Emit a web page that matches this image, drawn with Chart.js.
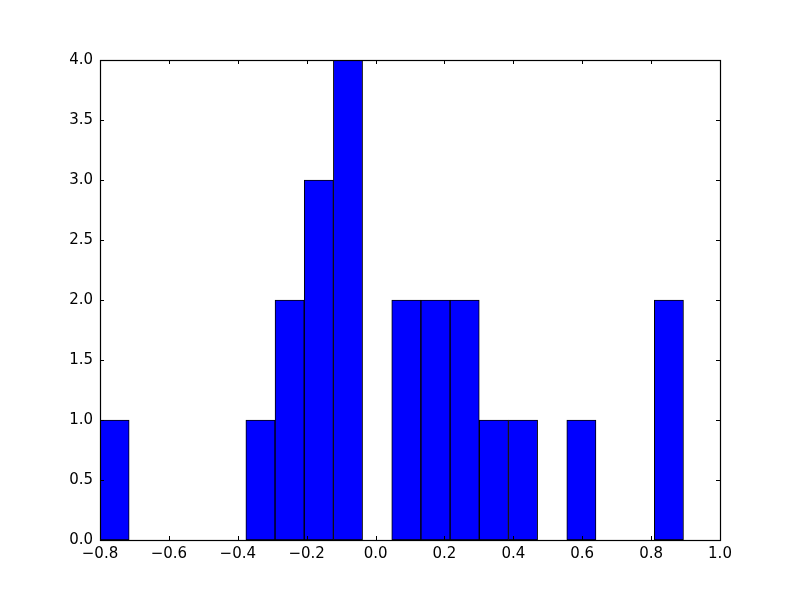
<!DOCTYPE html>
<html>
<head>
<meta charset="utf-8">
<script src="https://cdn.jsdelivr.net/npm/chart.js@4"></script>
<style>
html,body{margin:0;padding:0;background:#fff;}
#wrap{width:800px;height:600px;}
</style>
</head>
<body>
<div id="wrap"><canvas id="c" width="800" height="600"></canvas></div>
<script>
// Histogram bin edges
const binEdges = [-0.8000, -0.7153, -0.6306, -0.5459, -0.4612, -0.3765, -0.2918, -0.2071, -0.1224, -0.0377,
                  0.0470, 0.1317, 0.2164, 0.3011, 0.3858, 0.4705, 0.5552, 0.6399, 0.7246, 0.8093, 0.8940];
// Counts per bin
const binCounts = [1, 0, 0, 0, 0, 1, 2, 3, 4, 0,
                   2, 2, 2, 1, 1, 0, 1, 0, 0, 2];
const xTicks = [-0.8, -0.6, -0.4, -0.2, 0.0, 0.2, 0.4, 0.6, 0.8, 1.0];
const yTicks = [0.0, 0.5, 1.0, 1.5, 2.0, 2.5, 3.0, 3.5, 4.0];

const barData = [];
for (let i = 0; i < binCounts.length; i++) {
  if (binCounts[i] > 0) {
    barData.push({x: (binEdges[i] + binEdges[i + 1]) / 2, y: binCounts[i]});
  }
}

function fmt(v) {
  if (Math.abs(v) < 1e-9) v = 0;
  return v.toFixed(1).replace('-', '\u2212');
}

const frame = {
  id: 'frame',
  afterDatasetsDraw(chart) {
    const {ctx, chartArea: a, scales: {x, y}} = chart;
    ctx.save();
    ctx.strokeStyle = '#000';
    ctx.lineWidth = 1;
    const L = 4;
    ctx.beginPath();
    xTicks.forEach(v => {
      const px = Math.round(x.getPixelForValue(v)) + 0.5;
      ctx.moveTo(px, a.bottom); ctx.lineTo(px, a.bottom - L);
      ctx.moveTo(px, a.top); ctx.lineTo(px, a.top + L);
    });
    yTicks.forEach(v => {
      const py = Math.round(y.getPixelForValue(v)) + 0.5;
      ctx.moveTo(a.left, py); ctx.lineTo(a.left + L, py);
      ctx.moveTo(a.right, py); ctx.lineTo(a.right - L, py);
    });
    ctx.stroke();
    ctx.lineWidth = 1.2;
    ctx.strokeRect(Math.round(a.left) + 0.5, Math.round(a.top) + 0.5,
                   Math.round(a.right - a.left), Math.round(a.bottom - a.top));
    ctx.restore();
  }
};

new Chart(document.getElementById('c'), {
  type: 'bar',
  data: {
    datasets: [{
      data: barData,
      backgroundColor: '#0000ff',
      borderColor: '#000000',
      borderWidth: 1,
      barPercentage: 1,
      categoryPercentage: 1,
      borderSkipped: false
    }]
  },
  options: {
    responsive: false,
    animation: false,
    devicePixelRatio: 1,
    layout: {padding: {left: 0, top: 60, right: 80, bottom: 0}},
    plugins: {legend: {display: false}, tooltip: {enabled: false}},
    scales: {
      x: {
        type: 'linear',
        min: -0.8, max: 1.0,
        offset: false,
        grid: {display: false, drawTicks: false},
        border: {display: false},
        afterBuildTicks(s) { s.ticks = xTicks.map(v => ({value: v})); },
        afterFit(s) { s.height = 60; },
        ticks: {
          color: '#000',
          font: {family: 'DejaVu Sans', size: 15},
          padding: 5,
          maxRotation: 0,
          autoSkip: false,
          callback: v => fmt(v)
        }
      },
      y: {
        type: 'linear',
        min: 0, max: 4,
        grid: {display: false, drawTicks: false},
        border: {display: false},
        afterBuildTicks(s) { s.ticks = yTicks.map(v => ({value: v})); },
        afterFit(s) { s.width = 100; },
        ticks: {
          color: '#000',
          font: {family: 'DejaVu Sans', size: 15},
          padding: 7,
          autoSkip: false,
          callback: v => fmt(v)
        }
      }
    }
  },
  plugins: [frame]
});
</script>
</body>
</html>
